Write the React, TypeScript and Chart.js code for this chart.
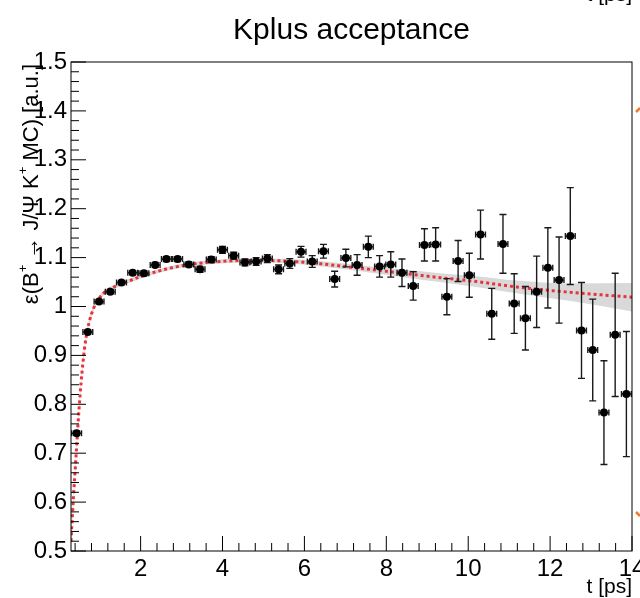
import React, { useEffect, useRef } from 'react';
import { Chart, registerables } from 'chart.js';

Chart.register(...registerables);

// ---- data ----
const tValues = [
  0.437, 0.711, 0.985, 1.259, 1.533, 1.807, 2.081, 2.355, 2.629, 2.903,
  3.177, 3.451, 3.725, 3.999, 4.273, 4.547, 4.821, 5.095, 5.369, 5.643,
  5.917, 6.191, 6.465, 6.739, 7.013, 7.287, 7.561, 7.835, 8.109, 8.383,
  8.657, 8.931, 9.205, 9.479, 9.753, 10.027, 10.301, 10.575, 10.849, 11.123,
  11.397, 11.671, 11.945, 12.219, 12.493, 12.767, 13.041, 13.315, 13.589, 13.863,
];
const effValues = [
  0.741, 0.948, 1.010, 1.030, 1.049, 1.069, 1.068, 1.085, 1.097, 1.097,
  1.086, 1.076, 1.096, 1.116, 1.104, 1.090, 1.092, 1.098, 1.076, 1.088,
  1.112, 1.092, 1.113, 1.056, 1.099, 1.085, 1.122, 1.082, 1.086, 1.069,
  1.042, 1.126, 1.127, 1.020, 1.093, 1.064, 1.147, 0.985, 1.128, 1.006,
  0.976, 1.030, 1.079, 1.054, 1.144, 0.951, 0.911, 0.783, 0.942, 0.821,
];
const effErrors = [
  0.004, 0.004, 0.004, 0.004, 0.004, 0.004, 0.005, 0.005, 0.005, 0.005,
  0.005, 0.006, 0.006, 0.007, 0.007, 0.007, 0.008, 0.008, 0.009, 0.010,
  0.011, 0.012, 0.014, 0.016, 0.018, 0.021, 0.022, 0.022, 0.026, 0.028,
  0.029, 0.033, 0.034, 0.037, 0.042, 0.045, 0.050, 0.052, 0.060, 0.061,
  0.065, 0.073, 0.082, 0.088, 0.099, 0.098, 0.104, 0.106, 0.126, 0.128,
];
const tHalfWidths = [
  0.12, 0.12, 0.12, 0.12, 0.12, 0.12, 0.12, 0.12, 0.12, 0.12,
  0.12, 0.12, 0.12, 0.12, 0.12, 0.12, 0.12, 0.12, 0.12, 0.12,
  0.12, 0.12, 0.12, 0.12, 0.12, 0.12, 0.12, 0.12, 0.12, 0.12,
  0.12, 0.12, 0.12, 0.12, 0.12, 0.12, 0.12, 0.12, 0.12, 0.12,
  0.12, 0.12, 0.12, 0.12, 0.12, 0.12, 0.12, 0.12, 0.12, 0.12,
];

// fit curve and its confidence band
const fitT = [
  0.30, 0.36, 0.42, 0.50, 0.59, 0.67, 0.75, 0.85, 1.00, 1.09,
  1.30, 1.52, 2.07, 2.64, 3.29, 3.94, 4.50, 5.08, 6.06, 7.28,
  8.50, 9.31, 10.20, 11.18, 12.50, 14.00,
];
const fitEff = [
  0.520, 0.610, 0.690, 0.795, 0.884, 0.938, 0.970, 0.996, 1.018, 1.027,
  1.038, 1.046, 1.063, 1.077, 1.087, 1.092, 1.094, 1.094, 1.090, 1.079,
  1.067, 1.059, 1.051, 1.040, 1.029, 1.019,
];
const bandLow = [
  0.508, 0.600, 0.681, 0.787, 0.877, 0.932, 0.964, 0.991, 1.013, 1.022,
  1.034, 1.042, 1.059, 1.073, 1.083, 1.088, 1.090, 1.090, 1.085, 1.073,
  1.059, 1.050, 1.040, 1.027, 1.011, 0.990,
];
const bandHigh = [
  0.532, 0.620, 0.699, 0.803, 0.891, 0.944, 0.976, 1.001, 1.023, 1.032,
  1.042, 1.050, 1.067, 1.081, 1.091, 1.096, 1.098, 1.098, 1.095, 1.085,
  1.075, 1.068, 1.062, 1.053, 1.047, 1.048,
];

const xTickValues = [2, 4, 6, 8, 10, 12, 14];
const yTickValues = [0.5, 0.6, 0.7, 0.8, 0.9, 1.0, 1.1, 1.2, 1.3, 1.4, 1.5];

const titleText = 'Kplus acceptance';
const xTitle = 't [ps]';
const yTitleParts: [string, boolean][] = [
  ['ε(B', false],
  ['+', true],
  [' → J/Ψ K', false],
  ['+', true],
  [' MC) [a.u.]', false],
];

const FONT = '"Liberation Sans", Arial, Helvetica, sans-serif';

const rootStyle = {
  id: 'rootStyle',
  beforeDatasetDraw(chart: any, args: any) {
    if (args.index !== 3) return;
    const { ctx, scales } = chart;
    const x = scales.x;
    const y = scales.y;
    ctx.save();
    ctx.strokeStyle = '#1a1a1a';
    ctx.lineWidth = 1.4;
    ctx.beginPath();
    tValues.forEach((t, i) => {
      const px = x.getPixelForValue(t);
      const py = y.getPixelForValue(effValues[i]);
      const yT = y.getPixelForValue(effValues[i] + effErrors[i]);
      const yB = y.getPixelForValue(effValues[i] - effErrors[i]);
      const xL = x.getPixelForValue(t - tHalfWidths[i]);
      const xR = x.getPixelForValue(t + tHalfWidths[i]);
      ctx.moveTo(px, yT); ctx.lineTo(px, yB);
      ctx.moveTo(px - 3.5, yT); ctx.lineTo(px + 3.5, yT);
      ctx.moveTo(px - 3.5, yB); ctx.lineTo(px + 3.5, yB);
      ctx.moveTo(xL, py); ctx.lineTo(xR, py);
      ctx.moveTo(xL, py - 3); ctx.lineTo(xL, py + 3);
      ctx.moveTo(xR, py - 3); ctx.lineTo(xR, py + 3);
    });
    ctx.stroke();
    ctx.restore();
  },
  afterDraw(chart: any) {
    const { ctx, chartArea, scales } = chart;
    const x = scales.x;
    const y = scales.y;
    const { left, right, top, bottom } = chartArea;
    ctx.save();
    // frame
    ctx.strokeStyle = '#000';
    ctx.lineWidth = 1;
    ctx.strokeRect(left, top, right - left, bottom - top);
    // x ticks (inward)
    ctx.beginPath();
    for (let k = 1; k <= 35; k++) {
      const v = k * 0.4;
      if (v < x.min || v > x.max) continue;
      const major = Math.abs(v / 2 - Math.round(v / 2)) < 1e-6;
      const px = x.getPixelForValue(v);
      ctx.moveTo(px, bottom);
      ctx.lineTo(px, bottom - (major ? 15 : 8));
    }
    // y ticks (inward)
    for (let k = 25; k <= 75; k++) {
      const v = k * 0.02;
      const major = k % 5 === 0;
      const py = y.getPixelForValue(v);
      ctx.moveTo(left, py);
      ctx.lineTo(left + (major ? 15 : 8), py);
    }
    ctx.stroke();

    ctx.fillStyle = '#000';
    // title
    ctx.font = `30px ${FONT}`;
    ctx.textAlign = 'center';
    ctx.textBaseline = 'alphabetic';
    ctx.fillText(titleText, (left + right) / 2, 39);

    // x title
    ctx.font = `21px ${FONT}`;
    ctx.textAlign = 'right';
    ctx.fillText(xTitle, right, 593);
    // clipped copy from the panel above
    ctx.fillText(xTitle, right, 1);

    // y title (rotated, with superscripts)
    const mainF = `22px ${FONT}`;
    const supF = `13px ${FONT}`;
    let total = 0;
    yTitleParts.forEach(([s, sup]) => {
      ctx.font = sup ? supF : mainF;
      total += ctx.measureText(s).width;
    });
    ctx.translate(38, top + 2);
    ctx.rotate(-Math.PI / 2);
    ctx.textAlign = 'left';
    let cx = -total;
    yTitleParts.forEach(([s, sup]) => {
      ctx.font = sup ? supF : mainF;
      ctx.fillText(s, cx, sup ? -11 : 0);
      cx += ctx.measureText(s).width;
    });
    ctx.restore();

    // orange marks at the right edge (from neighbouring panel)
    ctx.save();
    ctx.strokeStyle = '#f07a28';
    ctx.lineWidth = 2.5;
    ctx.beginPath();
    ctx.moveTo(636, 112); ctx.lineTo(640, 108);
    ctx.moveTo(636, 512); ctx.lineTo(640, 516);
    ctx.stroke();
    ctx.restore();
  },
};

export default function App() {
  const ref = useRef<HTMLCanvasElement | null>(null);
  useEffect(() => {
    document.body.style.margin = '0';
    if (!ref.current) return;
    const chart = new Chart(ref.current, {
      type: 'scatter',
      data: {
        datasets: [
          {
            data: fitT.map((t, i) => ({ x: t, y: bandHigh[i] })),
            showLine: true,
            borderWidth: 0,
            borderColor: 'rgba(0,0,0,0)',
            pointRadius: 0,
            cubicInterpolationMode: 'monotone',
            fill: false,
            order: 4,
          },
          {
            data: fitT.map((t, i) => ({ x: t, y: bandLow[i] })),
            showLine: true,
            borderWidth: 0,
            borderColor: 'rgba(0,0,0,0)',
            backgroundColor: '#d9d9d9',
            pointRadius: 0,
            cubicInterpolationMode: 'monotone',
            fill: '-1',
            order: 3,
          },
          {
            data: fitT.map((t, i) => ({ x: t, y: fitEff[i] })),
            showLine: true,
            borderColor: '#e8323c',
            borderWidth: 3,
            borderDash: [3, 3],
            pointRadius: 0,
            cubicInterpolationMode: 'monotone',
            fill: false,
            order: 2,
          },
          {
            data: tValues.map((t, i) => ({ x: t, y: effValues[i] })),
            showLine: false,
            pointRadius: 4,
            pointBackgroundColor: '#000',
            pointBorderColor: '#000',
            pointBorderWidth: 0,
            order: 1,
          },
        ],
      } as any,
      options: {
        animation: false,
        responsive: false,
        devicePixelRatio: 1,
        events: [],
        layout: { padding: { top: 62, right: 8, left: 0, bottom: 0 } },
        plugins: {
          legend: { display: false },
          tooltip: { enabled: false },
          title: { display: false },
        },
        scales: {
          x: {
            type: 'linear',
            min: 0.3,
            max: 14,
            grid: { display: false, drawTicks: false },
            border: { display: false },
            afterBuildTicks: (s: any) => {
              s.ticks = xTickValues.map((v) => ({ value: v }));
            },
            afterFit: (s: any) => {
              s.height = 47;
              s.paddingLeft = 0;
              s.paddingRight = 0;
            },
            ticks: {
              autoSkip: false,
              maxRotation: 0,
              padding: 4,
              color: '#000',
              font: { family: FONT, size: 24 },
              callback: (v: any) => String(v),
            },
          },
          y: {
            type: 'linear',
            min: 0.5,
            max: 1.5,
            grid: { display: false, drawTicks: false },
            border: { display: false },
            afterBuildTicks: (s: any) => {
              s.ticks = yTickValues.map((v) => ({ value: v }));
            },
            afterFit: (s: any) => {
              s.width = 71;
              s.paddingTop = 0;
              s.paddingBottom = 0;
            },
            ticks: {
              autoSkip: false,
              padding: 4,
              color: '#000',
              font: { family: FONT, size: 24 },
              callback: (v: any) => String(Number(Number(v).toFixed(1))),
            },
          },
        },
      } as any,
      plugins: [rootStyle],
    });
    return () => chart.destroy();
  }, []);
  return (
    <div style={{ position: 'fixed', left: 0, top: 0, width: 640, height: 598, background: '#fff' }}>
      <canvas ref={ref} width={640} height={598} />
    </div>
  );
}
